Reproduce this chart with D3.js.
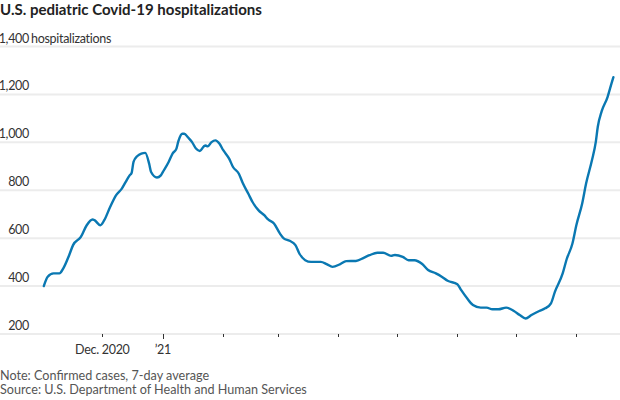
<!DOCTYPE html>
<html>
<head>
<meta charset="utf-8">
<script src="https://cdn.jsdelivr.net/npm/d3@7"></script>
<style>
  html, body { margin: 0; padding: 0; background: #fff; }
  svg { display: block; }
  text { font-family: Lato, "Noto Sans", sans-serif; }
</style>
</head>
<body>
<svg id="chart" width="620" height="400"></svg>
<script>
// ---- data ----
const dates = [
  "2020-11-01","2020-11-03","2020-11-06","2020-11-09","2020-11-11","2020-11-14","2020-11-16","2020-11-20",
  "2020-11-23","2020-11-26","2020-11-27","2020-11-30","2020-12-02","2020-12-05","2020-12-08","2020-12-11",
  "2020-12-13","2020-12-15","2020-12-16","2020-12-17","2020-12-19","2020-12-21","2020-12-23","2020-12-25",
  "2020-12-26","2020-12-29","2020-12-31","2021-01-01","2021-01-04","2021-01-06","2021-01-08","2021-01-09",
  "2021-01-11","2021-01-12","2021-01-14","2021-01-16","2021-01-18","2021-01-20","2021-01-22","2021-01-23",
  "2021-01-24","2021-01-26","2021-01-28","2021-01-30","2021-02-01","2021-02-04","2021-02-06","2021-02-09",
  "2021-02-11","2021-02-14","2021-02-16","2021-02-19","2021-02-22","2021-02-24","2021-02-27","2021-03-02",
  "2021-03-04","2021-03-07","2021-03-10","2021-03-12","2021-03-15","2021-03-18","2021-03-23","2021-03-26",
  "2021-03-29","2021-04-02","2021-04-05","2021-04-10","2021-04-14","2021-04-17","2021-04-21","2021-04-24",
  "2021-04-28","2021-04-30","2021-05-04","2021-05-07","2021-05-10","2021-05-14","2021-05-17","2021-05-21",
  "2021-05-24","2021-05-27","2021-06-01","2021-06-03","2021-06-06","2021-06-09","2021-06-13","2021-06-16",
  "2021-06-19","2021-06-22","2021-06-26","2021-06-30","2021-07-03","2021-07-06","2021-07-09","2021-07-13",
  "2021-07-16","2021-07-19","2021-07-21","2021-07-25","2021-07-27","2021-07-30","2021-08-01","2021-08-04",
  "2021-08-06","2021-08-09","2021-08-11","2021-08-12","2021-08-14","2021-08-17","2021-08-19","2021-08-20"
];
const hospitalizations = [
  400,439,453,453,474,529,571,605,
  654,678,675,654,675,730,779,807,
  835,862,872,918,943,953,956,911,
  876,853,862,876,918,953,974,1005,
  1036,1036,1020,1001,974,964,983,987,
  983,1001,1008,995,967,932,897,869,
  830,783,751,717,696,678,661,620,
  599,589,571,536,508,501,501,492,
  480,492,504,505,518,529,539,539,
  526,530,522,508,508,492,467,453,
  439,422,408,383,349,321,310,310,
  303,303,310,296,279,265,279,296,
  307,328,376,453,511,578,654,745,
  828,925,1003,1065,1130,1189,1245,1272
];
const yTicks = [200, 400, 600, 800, 1000, 1200, 1400];
const xTickDates = ["2020-12-01","2021-01-01","2021-02-01","2021-03-01","2021-04-01","2021-05-01","2021-06-01","2021-07-01","2021-08-01"];
const xTickLabels = ["Dec. 2020","\u201921","","","","","","",""];
const title = "U.S. pediatric Covid-19 hospitalizations";
const yUnit = "hospitalizations";
const notes = ["Note: Confirmed cases, 7-day average", "Source: U.S. Department of Health and Human Services"];

// ---- chart ----
const W = 620, H = 400;
const svg = d3.select("#chart");
const parse = d3.utcParse("%Y-%m-%d");
const data = dates.map((d, i) => ({ date: parse(d), value: hospitalizations[i] }));

const x = d3.scaleUtc()
  .domain([parse("2020-11-01"), parse("2021-08-20")])
  .range([43.8, 613.4]);
const y = d3.scaleLinear().domain([200, 1400]).range([334, 46.5]);

// scale a text's font so that it spans a given width
function fitWidth(sel, target) {
  sel.each(function() {
    const n = this, w = n.getComputedTextLength();
    const fs = parseFloat(n.getAttribute("font-size"));
    if (w > 0) n.setAttribute("font-size", (fs * target / w).toFixed(2));
  });
}

// gridlines
svg.append("g").selectAll("line").data(yTicks).join("line")
  .attr("x1", 0).attr("x2", W)
  .attr("y1", d => y(d)).attr("y2", d => y(d))
  .attr("stroke", "#ececec").attr("stroke-width", 2);

// y labels
const LBL = 12.5;
const yl = svg.append("g");
yl.selectAll("text").data(yTicks).join("text")
  .attr("x", 29).attr("y", d => y(d) - 4)
  .attr("text-anchor", "end")
  .attr("font-size", LBL).attr("fill", "#333")
  .attr("letter-spacing", -0.3)
  .text(d => d3.format(",")(d));
yl.append("text")
  .attr("x", 31).attr("y", y(1400) - 4)
  .attr("font-size", LBL).attr("fill", "#333")
  .attr("letter-spacing", -0.3)
  .text(yUnit);

// x axis ticks
const xg = svg.append("g");
const tickData = xTickDates.map((d, i) => ({ date: parse(d), label: xTickLabels[i], year: d.slice(5,7) === "01" }));
xg.selectAll("line").data(tickData).join("line")
  .attr("x1", d => Math.round(x(d.date)) + 0.5).attr("x2", d => Math.round(x(d.date)) + 0.5)
  .attr("y1", y(200)).attr("y2", d => y(200) + (d.year ? 5 : 3))
  .attr("stroke", "#333").attr("stroke-width", 1);
xg.selectAll("text").data(tickData.filter(d => d.label)).join("text")
  .attr("x", d => x(d.date)).attr("y", 354)
  .attr("text-anchor", "middle")
  .attr("font-size", LBL).attr("fill", "#333")
  .attr("letter-spacing", -0.3)
  .text(d => d.label);

// line
const line = d3.line()
  .x(d => x(d.date)).y(d => y(d.value))
  .curve(d3.curveMonotoneX);
svg.append("path").datum(data)
  .attr("d", line)
  .attr("fill", "none")
  .attr("stroke", "#0a78b2")
  .attr("stroke-width", 2.4)
  .attr("stroke-linejoin", "round")
  .attr("stroke-linecap", "round");

// title
svg.append("text")
  .attr("x", 0).attr("y", 15)
  .attr("font-size", 16).attr("font-weight", "bold").attr("fill", "#222")
  .text(title)
  .call(fitWidth, 262);

// footer
svg.selectAll("text.note").data(notes).join("text")
  .attr("class", "note")
  .attr("x", 0).attr("y", (d, i) => 380 + i * 13.5)
  .attr("font-size", 12.5).attr("fill", "#555")
  .text(d => d)
  .filter((d, i) => i === 1).call(fitWidth, 307);
svg.selectAll("text.note").filter((d, i) => i === 0)
  .attr("font-size", svg.selectAll("text.note").filter((d, i) => i === 1).attr("font-size"));
</script>
</body>
</html>
